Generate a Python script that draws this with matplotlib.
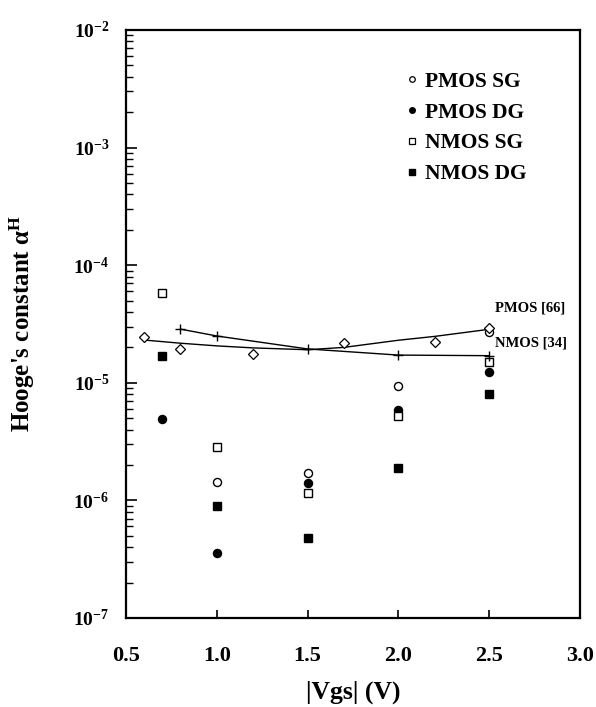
import numpy as np
import matplotlib
matplotlib.use("Agg")
import matplotlib.pyplot as plt
from matplotlib.lines import Line2D
from matplotlib.ticker import NullFormatter, FixedLocator

plt.rcParams.update({
    'font.family': 'Liberation Serif',
    'font.weight': 'bold',
    'mathtext.fontset': 'custom',
    'mathtext.rm': 'Liberation Serif',
    'mathtext.bf': 'Liberation Serif:bold',
    'mathtext.it': 'Liberation Serif:italic',
})

# measured device data
vgs = [0.7, 1.0, 1.5, 2.0, 2.5]
pmos_sg = [None, 1.42e-6, 1.72e-6, 9.3e-6, 2.7e-5]
pmos_dg = [4.9e-6, 3.57e-7, 1.40e-6, 5.9e-6, 1.24e-5]
nmos_sg = [5.8e-5, 2.86e-6, 1.15e-6, 5.2e-6, 1.51e-5]
nmos_dg = [1.70e-5, 9.0e-7, 4.75e-7, 1.89e-6, 8.1e-6]

# literature references
pmos66_x = [0.6, 0.8, 1.2, 1.7, 2.2, 2.5]
pmos66_y = [2.44e-5, 1.93e-5, 1.75e-5, 2.16e-5, 2.24e-5, 2.9e-5]
pmos66_fit_x = [0.6, 0.8, 1.0, 1.2, 1.5, 1.7, 2.0, 2.2, 2.5]
pmos66_fit_y = [2.31e-5, 2.17e-5, 2.06e-5, 1.98e-5, 1.91e-5, 2.00e-5, 2.30e-5, 2.48e-5, 2.85e-5]
nmos34_x = [0.8, 1.0, 1.5, 2.0, 2.5]
nmos34_y = [2.86e-5, 2.50e-5, 1.94e-5, 1.72e-5, 1.70e-5]

xticks = [0.5, 1.0, 1.5, 2.0, 2.5, 3.0]
ydecades = [-7, -6, -5, -4, -3, -2]


def pts(xs, ys):
    pairs = [(x, y) for x, y in zip(xs, ys) if y is not None]
    return [p[0] for p in pairs], [p[1] for p in pairs]


fig = plt.figure(figsize=(5.96, 7.07), dpi=100)
ax = fig.add_axes([0.2114, 0.1259, 0.7617, 0.8317])

ms = 5.8
ax.plot(*pts(vgs, pmos_sg), 'o', ms=ms, mfc='white', mec='black', mew=1.0, ls='none')
ax.plot(*pts(vgs, pmos_dg), 'o', ms=ms, mfc='black', mec='black', ls='none')
ax.plot(*pts(vgs, nmos_sg), 's', ms=ms, mfc='white', mec='black', mew=1.0, ls='none')
ax.plot(*pts(vgs, nmos_dg), 's', ms=ms, mfc='black', mec='black', ls='none')

ax.plot(pmos66_fit_x, pmos66_fit_y, '-', color='black', lw=1.0)
ax.plot(pmos66_x, pmos66_y, 'D', ms=5.0, mfc='white', mec='black', mew=0.9, ls='none')
ax.plot(nmos34_x, nmos34_y, '-', color='black', lw=1.0, marker='+', ms=7, mew=1.0)

ax.text(2.53, 4.3e-5, 'PMOS [66]', fontsize=10.5, fontweight='bold', ha='left', va='center')
ax.text(2.53, 2.18e-5, 'NMOS [34]', fontsize=10.5, fontweight='bold', ha='left', va='center')

ax.set_yscale('log')
ax.set_xlim(0.5, 3.0)
ax.set_ylim(1e-7, 1e-2)

ax.xaxis.set_major_locator(FixedLocator(xticks))
ax.set_xticklabels([f'{v:.1f}' for v in xticks])
ax.yaxis.set_major_locator(FixedLocator([10.0 ** d for d in ydecades]))
ax.set_yticklabels([r'$\mathbf{10^{%d}}$' % d for d in ydecades])
minor = [k * 10.0 ** d for d in ydecades[:-1] for k in range(2, 10)]
ax.yaxis.set_minor_locator(FixedLocator(minor))
ax.yaxis.set_minor_formatter(NullFormatter())

ax.tick_params(axis='x', which='major', direction='in', length=6, width=1.2,
               labelsize=16, pad=20, top=False)
ax.tick_params(axis='y', which='major', direction='in', length=8, width=1.2,
               labelsize=14, pad=12, right=False)
ax.tick_params(axis='y', which='minor', direction='in', length=5, width=1.0, right=False)
for s in ax.spines.values():
    s.set_linewidth(1.6)

fig.text(353 / 596, 1 - 692 / 707, '|Vgs| (V)', fontsize=18.5, fontweight='bold',
         ha='center', va='center')
fig.text(22 / 596, 1 - 323 / 707, "Hooge's constant α$^{\\mathrm{H}}$", fontsize=18,
         fontweight='bold', rotation=90, ha='center', va='center')

handles = [
    Line2D([], [], marker='o', ls='none', ms=4, mfc='white', mec='black', mew=0.9),
    Line2D([], [], marker='o', ls='none', ms=4, mfc='black', mec='black'),
    Line2D([], [], marker='s', ls='none', ms=4, mfc='white', mec='black', mew=0.9),
    Line2D([], [], marker='s', ls='none', ms=4, mfc='black', mec='black'),
]
labels = ['PMOS SG', 'PMOS DG', 'NMOS SG', 'NMOS DG']
ax.legend(handles, labels, loc='upper left', bbox_to_anchor=(0.615, 0.929),
          frameon=False, fontsize=15.5, handlelength=0.6, handletextpad=0.3,
          labelspacing=0.5, borderpad=0, borderaxespad=0)

fig.savefig('out.png', dpi=100)
